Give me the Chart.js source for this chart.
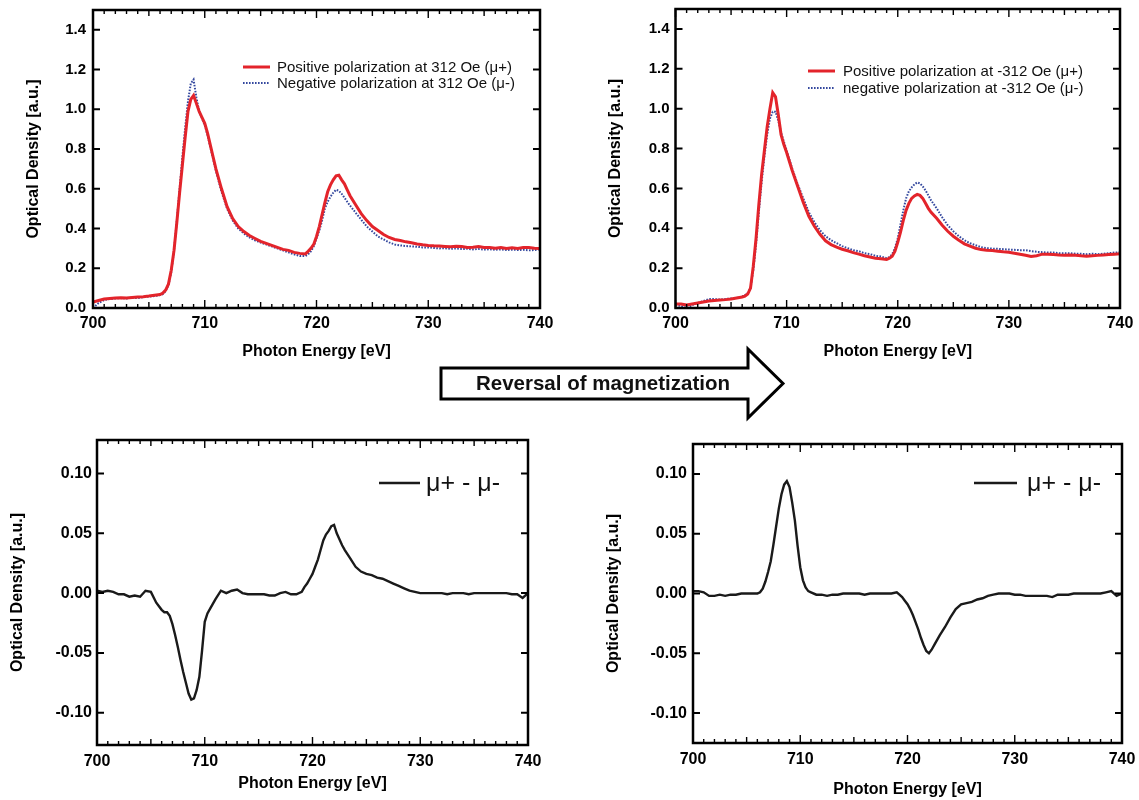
<!DOCTYPE html>
<html><head><meta charset="utf-8">
<script src="https://cdn.jsdelivr.net/npm/chart.js@4.4.1/dist/chart.umd.min.js"></script>
<style>
html,body{margin:0;padding:0;background:#fff;}
#wrap{position:relative;width:1139px;height:800px;overflow:hidden;background:#fff;}
canvas{position:absolute;}
svg{position:absolute;left:0;top:0;pointer-events:none;}
</style></head><body>
<div id="wrap">
<canvas id="c1" width="560" height="370" style="left:0;top:0"></canvas>
<canvas id="c2" width="559" height="370" style="left:580px;top:0"></canvas>
<canvas id="c3" width="560" height="370" style="left:0;top:430px"></canvas>
<canvas id="c4" width="559" height="370" style="left:580px;top:430px"></canvas>
<svg width="1139" height="800">
  <polygon points="441,368 748,368 748,349 783,383.5 748,418 748,399 441,399" fill="#fff" stroke="#000" stroke-width="3" stroke-linejoin="miter"/>
  <text x="603" y="390" text-anchor="middle" font-family="Liberation Sans, Arial, Helvetica, sans-serif" font-weight="bold" font-size="20.5" fill="#111">Reversal of magnetization</text>
</svg>
</div>
<script>
// ---------- DATA ----------
const energy = [
 700,700.5,701,701.5,702,702.5,703,703.5,704,704.5,705,705.5,706,
 706.25,706.5,706.75,707,707.25,707.5,707.75,708,708.25,708.5,708.75,709,709.25,709.5,709.75,710,710.25,710.5,710.75,711,711.5,712,
 712.5,713,713.5,714,714.5,715,715.5,716,716.5,717,717.5,718,718.5,719,
 719.25,719.5,719.75,720,720.25,720.5,720.75,721,721.25,721.5,721.75,722,722.25,722.5,722.75,723,723.5,724,
 724.5,725,725.5,726,726.5,727,727.5,728,728.5,729,729.5,730,730.5,731,731.5,732,732.5,733,733.5,734,734.5,735,735.5,736,736.5,737,737.5,738,738.5,739,739.5,740
];
// top-left: +312 Oe
const posPol312 = [
 0.030,0.038,0.045,0.048,0.050,0.052,0.050,0.053,0.055,0.057,0.060,0.064,0.068,
 0.075,0.090,0.120,0.190,0.290,0.430,0.580,0.720,0.860,0.990,1.050,1.070,1.030,0.990,0.960,0.930,0.880,0.820,0.760,0.700,0.600,0.510,
 0.450,0.410,0.385,0.365,0.350,0.335,0.325,0.315,0.305,0.295,0.290,0.280,0.275,0.272,
 0.285,0.300,0.320,0.360,0.410,0.470,0.530,0.585,0.620,0.645,0.665,0.668,0.645,0.625,0.595,0.565,0.520,0.475,
 0.440,0.410,0.390,0.370,0.355,0.345,0.340,0.333,0.328,0.322,0.318,0.315,0.313,0.312,0.310,0.308,0.311,0.309,0.305,0.306,0.309,0.305,0.304,0.301,0.305,0.300,0.303,0.300,0.304,0.305,0.301,0.300
];
const negPol312 = [
 0.000,0.025,0.040,0.045,0.048,0.050,0.048,0.052,0.050,0.055,0.058,0.060,0.065,
 0.070,0.085,0.115,0.180,0.290,0.440,0.600,0.760,0.910,1.040,1.130,1.150,1.060,0.990,0.955,0.920,0.870,0.810,0.750,0.690,0.585,0.500,
 0.440,0.400,0.375,0.355,0.340,0.330,0.320,0.310,0.300,0.290,0.280,0.270,0.262,0.262,
 0.270,0.285,0.310,0.350,0.390,0.440,0.500,0.535,0.560,0.580,0.595,0.590,0.575,0.555,0.535,0.515,0.480,0.445,
 0.410,0.385,0.360,0.345,0.330,0.320,0.315,0.312,0.310,0.308,0.305,0.305,0.302,0.300,0.301,0.298,0.300,0.297,0.298,0.295,0.297,0.294,0.296,0.293,0.295,0.292,0.294,0.292,0.293,0.290,0.292,0.295
];
// top-right: -312 Oe
const posPolM312 = [
 0.020,0.020,0.015,0.020,0.025,0.030,0.035,0.038,0.040,0.042,0.045,0.050,0.055,
 0.060,0.070,0.100,0.210,0.350,0.520,0.670,0.790,0.910,1.000,1.080,1.060,0.970,0.870,0.820,0.780,0.735,0.690,0.650,0.610,0.530,0.460,
 0.410,0.370,0.337,0.318,0.305,0.295,0.287,0.278,0.270,0.262,0.256,0.250,0.247,0.243,
 0.250,0.260,0.285,0.330,0.380,0.440,0.490,0.525,0.550,0.562,0.570,0.565,0.550,0.525,0.500,0.480,0.450,0.415,
 0.385,0.360,0.340,0.322,0.310,0.300,0.293,0.290,0.288,0.285,0.282,0.280,0.275,0.270,0.265,0.258,0.262,0.270,0.270,0.268,0.266,0.265,0.266,0.265,0.262,0.260,0.262,0.264,0.266,0.268,0.270,0.272
];
const negPolM312 = [
 0.015,0.010,0.000,0.015,0.025,0.035,0.045,0.045,0.042,0.045,0.048,0.050,0.058,
 0.065,0.075,0.100,0.190,0.320,0.480,0.630,0.760,0.870,0.950,0.985,0.985,0.940,0.880,0.835,0.790,0.745,0.700,0.660,0.620,0.550,0.480,
 0.430,0.390,0.360,0.340,0.325,0.310,0.300,0.290,0.285,0.275,0.270,0.262,0.258,0.250,
 0.255,0.270,0.300,0.350,0.420,0.490,0.550,0.585,0.605,0.620,0.630,0.625,0.610,0.590,0.565,0.540,0.500,0.455,
 0.415,0.385,0.360,0.340,0.325,0.315,0.305,0.300,0.298,0.297,0.295,0.293,0.292,0.290,0.290,0.285,0.282,0.280,0.278,0.278,0.275,0.275,0.275,0.272,0.272,0.270,0.272,0.270,0.272,0.275,0.278,0.280
];
// bottom: mu+ - mu-
const diff312 = [
 0.002,0.001,0.002,0.001,-0.001,-0.001,-0.003,-0.002,-0.003,0.002,0.001,-0.008,-0.014,
 -0.016,-0.016,-0.019,-0.026,-0.035,-0.045,-0.056,-0.066,-0.075,-0.084,-0.089,-0.088,-0.081,-0.070,-0.048,-0.024,-0.017,-0.013,-0.009,-0.005,0.002,0.000,
 0.002,0.003,0.000,-0.001,-0.001,-0.001,-0.001,-0.002,-0.002,0.000,0.001,-0.001,-0.001,0.001,
 0.005,0.008,0.012,0.016,0.022,0.028,0.036,0.044,0.049,0.052,0.056,0.057,0.050,0.045,0.040,0.036,0.029,0.022,
 0.018,0.016,0.015,0.013,0.012,0.010,0.008,0.006,0.004,0.002,0.001,0.000,0.000,0.000,0.000,0.000,-0.001,0.000,0.000,0.000,-0.001,0.000,0.000,0.000,0.000,0.000,0.000,0.000,-0.001,-0.001,-0.004,0.000
];
const diffM312 = [
 0.002,0.002,0.001,-0.002,-0.002,-0.001,-0.002,-0.001,-0.001,0.000,0.000,0.000,0.000,
 0.001,0.004,0.010,0.018,0.027,0.041,0.056,0.071,0.083,0.091,0.094,0.089,0.076,0.061,0.040,0.022,0.011,0.005,0.002,0.001,-0.001,-0.001,
 -0.002,-0.001,-0.001,0.000,0.000,0.000,0.000,-0.001,0.000,0.000,0.000,0.000,0.000,0.001,
 -0.001,-0.003,-0.006,-0.009,-0.013,-0.018,-0.024,-0.030,-0.037,-0.043,-0.048,-0.050,-0.047,-0.043,-0.039,-0.035,-0.028,-0.020,
 -0.013,-0.009,-0.008,-0.007,-0.005,-0.004,-0.002,-0.001,0.000,0.000,0.000,-0.001,-0.001,-0.002,-0.002,-0.002,-0.002,-0.002,-0.003,-0.001,-0.001,-0.001,0.000,0.000,0.000,0.000,0.000,0.000,0.001,0.002,-0.002,0.000
];
const xTicks = [700,710,720,730,740];
const yTicksOD = [0.0,0.2,0.4,0.6,0.8,1.0,1.2,1.4];
const yTicksDiff = [-0.10,-0.05,0.00,0.05,0.10];
const labels = {
  pos312: 'Positive polarization at 312 Oe (\u03bc+)',
  neg312: 'Negative polarization at 312 Oe (\u03bc-)',
  posM312: 'Positive polarization at -312 Oe (\u03bc+)',
  negM312: 'negative polarization at -312 Oe (\u03bc-)',
  diff: '\u03bc+ - \u03bc-'
};
const xTitle = 'Photon Energy [eV]';
const yTitle = 'Optical Density [a.u.]';

// ---------- RENDERING ----------
const FONT = 'Liberation Sans, Arial, Helvetica, sans-serif';
Chart.defaults.font.family = FONT;
Chart.defaults.color = '#000';
const RED = '#e3242b', BLUE = '#34489e', BLACK = '#1a1a1a';

const pts = vals => energy.map((e, i) => ({x: e, y: vals[i]}));

const framePlugin = {
  id: 'frame',
  afterDatasetsDraw(chart, args, o) {
    const {ctx, chartArea: a} = chart;
    const x = chart.scales.x, y = chart.scales.y;
    ctx.save();
    ctx.strokeStyle = '#000';
    ctx.lineWidth = 1.4;
    ctx.beginPath();
    for (let v = Math.round(x.min); v <= x.max + 1e-6; v += 1) {
      const px = x.getPixelForValue(v);
      const len = (v % 10 === 0) ? 8 : (v % 5 === 0 ? 6 : 4);
      ctx.moveTo(px, a.bottom); ctx.lineTo(px, a.bottom - len);
      ctx.moveTo(px, a.top); ctx.lineTo(px, a.top + len);
    }
    ctx.stroke();
    ctx.lineWidth = 2;
    ctx.beginPath();
    y.ticks.forEach(t => {
      const py = y.getPixelForValue(t.value);
      ctx.moveTo(a.left, py); ctx.lineTo(a.left + 7, py);
      ctx.moveTo(a.right, py); ctx.lineTo(a.right - 7, py);
    });
    ctx.stroke();
    ctx.lineWidth = 2.5;
    ctx.strokeRect(a.left, a.top, a.right - a.left, a.bottom - a.top);
    // legend
    if (o && o.items) {
      ctx.font = o.font;
      ctx.textBaseline = 'middle';
      ctx.textAlign = 'left';
      ctx.fillStyle = '#111';
      o.items.forEach(it => {
        const ds = chart.data.datasets[it.ds];
        ctx.strokeStyle = ds.borderColor;
        ctx.lineWidth = ds.borderWidth;
        ctx.setLineDash(ds.borderDash || []);
        ctx.beginPath(); ctx.moveTo(o.x1, it.y); ctx.lineTo(o.x2, it.y); ctx.stroke();
        ctx.setLineDash([]);
        ctx.fillText(ds.label, o.tx, it.y + 1);
      });
    }
    ctx.restore();
  }
};

function makeChart(id, datasets, g) {
  return new Chart(document.getElementById(id), {
    type: 'line',
    data: {datasets},
    plugins: [framePlugin],
    options: {
      responsive: false, animation: false,
      layout: {padding: {top: g.top, right: g.right, left: 0, bottom: 0}},
      elements: {point: {radius: 0}, line: {tension: 0}},
      plugins: {legend: {display: false}, tooltip: {enabled: false}, frame: g.legend},
      scales: {
        x: {
          type: 'linear', min: 700, max: 740,
          afterBuildTicks: s => { s.ticks = xTicks.map(v => ({value: v})); },
          afterFit: s => { s.height = g.xH; s.paddingLeft = 0; s.paddingRight = 0; s.paddingTop = 0; s.paddingBottom = 0; },
          grid: {display: false, drawTicks: false, tickLength: 0},
          border: {display: false},
          ticks: {autoSkip: false, maxRotation: 0, padding: g.xTickPad, font: {size: 16, weight: 'bold'}, callback: v => String(v)},
          title: {display: true, text: xTitle, font: {size: 16, weight: 'bold', lineHeight: 1.2}, padding: {top: 0, bottom: g.xTitlePad}}
        },
        y: {
          type: 'linear', min: g.yMin, max: g.yMax,
          afterBuildTicks: s => { s.ticks = g.yTicks.map(v => ({value: v})); },
          afterFit: s => { s.width = g.yW; s.paddingTop = 0; s.paddingBottom = 0; s.paddingLeft = 0; s.paddingRight = 0; },
          grid: {display: false, drawTicks: false, tickLength: 0},
          border: {display: false},
          ticks: {autoSkip: false, padding: g.yTickPad, font: {size: g.yFont, weight: 'bold'}, callback: v => v.toFixed(g.dec)},
          title: {display: true, text: yTitle, font: {size: 16, weight: 'bold', lineHeight: 1.2}, padding: {top: g.yTitlePad, bottom: 0}}
        }
      }
    }
  });
}

const redDs = (lab, vals) => ({label: lab, data: pts(vals), borderColor: RED, borderWidth: 3, fill: false});
const blueDs = (lab, vals) => ({label: lab, data: pts(vals), borderColor: BLUE, borderWidth: 2, borderDash: [1.6, 1.4], fill: false});
const blackDs = (lab, vals) => ({label: lab, data: pts(vals), borderColor: BLACK, borderWidth: 2.4, fill: false});

makeChart('c1', [redDs(labels.pos312, posPol312), blueDs(labels.neg312, negPol312)], {
  top: 10, right: 20, xH: 62, yW: 93, xTickPad: 6, xTitlePad: 8.4, yTickPad: 7, yFont: 15, yTitlePad: 24.4,
  yMin: 0, yMax: 1.5, yTicks: yTicksOD, dec: 1,
  legend: {font: '15px ' + FONT, x1: 243, x2: 270, tx: 277, items: [{ds: 0, y: 67}, {ds: 1, y: 83}]}
});
makeChart('c2', [redDs(labels.posM312, posPolM312), blueDs(labels.negM312, negPolM312)], {
  top: 9, right: 19, xH: 62, yW: 95.5, xTickPad: 6, xTitlePad: 8.4, yTickPad: 6, yFont: 15, yTitlePad: 26.4,
  yMin: 0, yMax: 1.5, yTicks: yTicksOD, dec: 1,
  legend: {font: '15px ' + FONT, x1: 228, x2: 255, tx: 263, items: [{ds: 0, y: 71}, {ds: 1, y: 88}]}
});
makeChart('c3', [blackDs(labels.diff, diff312)], {
  top: 10, right: 32, xH: 55, yW: 97, xTickPad: 7, xTitlePad: 6.5, yTickPad: 5, yFont: 16, yTitlePad: 8,
  yMin: -0.127, yMax: 0.128, yTicks: yTicksDiff, dec: 2,
  legend: {font: '25px ' + FONT, x1: 379, x2: 420, tx: 426, items: [{ds: 0, y: 53}]}
});
makeChart('c4', [blackDs(labels.diff, diffM312)], {
  top: 14, right: 17, xH: 57, yW: 113, xTickPad: 7, xTitlePad: 1, yTickPad: 6, yFont: 16, yTitlePad: 24.4,
  yMin: -0.125, yMax: 0.125, yTicks: yTicksDiff, dec: 2,
  legend: {font: '25px ' + FONT, x1: 394, x2: 437, tx: 447, items: [{ds: 0, y: 53}]}
});
</script>
</body></html>
